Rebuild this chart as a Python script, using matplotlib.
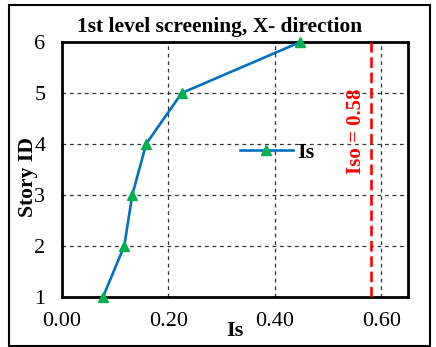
import matplotlib
matplotlib.use("Agg")
import matplotlib.pyplot as plt
from matplotlib.patches import Rectangle

story = [1, 2, 3, 4, 5, 6]
Is = [0.077, 0.117, 0.132, 0.158, 0.225, 0.448]
Iso = 0.58
xticks = [0.0, 0.2, 0.4, 0.6]
xtick_labels = ["0.00", "0.20", "0.40", "0.60"]
yticks = [1, 2, 3, 4, 5, 6]

plt.rcParams['font.family'] = ['Liberation Serif', 'DejaVu Serif']

W, H = 436, 347
fig = plt.figure(figsize=(W / 100, H / 100), dpi=100)
ax = fig.add_axes([62 / W, 1 - 297 / H, (408 - 62) / W, (297 - 42) / H])

ax.plot(Is, story, color='#0070C0', lw=1.9, marker='^', ms=7.5,
        mfc='#00B050', mec='#00B050', label='Is', zorder=4, clip_on=False)
ax.axvline(Iso, color='#FF0000', lw=1.9, ls=(0, (4, 1.8)), zorder=3)
ax.text(0.553, 4.25, 'Iso = 0.58', rotation=90, color='#FF0000',
        fontsize=15, fontweight='bold', ha='center', va='center')

ax.set_xlim(0, 0.65)
ax.set_ylim(1, 6)
ax.set_xticks(xticks)
ax.set_xticklabels(xtick_labels)
ax.set_yticks(yticks)
ax.tick_params(length=0, labelsize=16, pad=11)
ax.tick_params(axis='y', pad=12)
ax.grid(True, color='#333333', ls=(0, (3, 3)), lw=0.9)
for s in ax.spines.values():
    s.set_linewidth(2)

leg = ax.legend(loc='center', bbox_to_anchor=(0.622, 0.565), frameon=False,
                handlelength=2.4, handletextpad=0.2,
                prop={'weight': 'bold', 'size': 16})

fig.text(220 / W, 1 - 32 / H, '1st level screening, X- direction',
         fontsize=15.4, fontweight='bold', ha='center', va='baseline')
fig.text(28 / W, 1 - 177 / H, 'Story ID', fontsize=15.6, fontweight='bold',
         rotation=90, ha='center', va='center')
fig.text(235 / W, 1 - 331 / H, 'Is', fontsize=16, fontweight='bold',
         ha='center', va='center')

fig.patches.append(Rectangle((9 / W, 1 - 346 / H), (430 - 9) / W, (346 - 5) / H,
                             transform=fig.transFigure, fill=False,
                             edgecolor='black', lw=1.5))

fig.savefig('out.png', dpi=100)
